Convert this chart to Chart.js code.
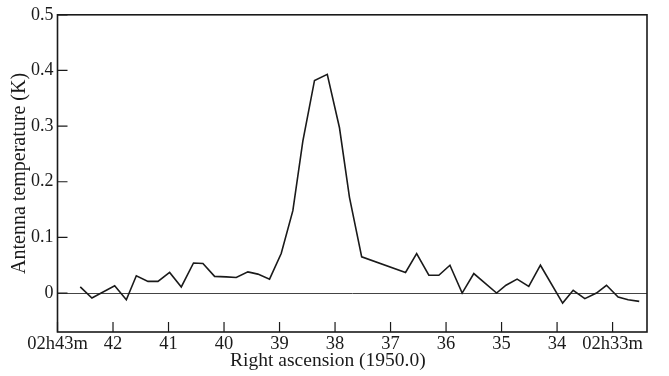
<!DOCTYPE html>
<html>
<head>
<meta charset="utf-8">
<script src="https://cdn.jsdelivr.net/npm/chart.js@4.4.1/dist/chart.umd.min.js"></script>
<style>
  html, body { margin: 0; padding: 0; background: #fff; }
  #wrap { width: 669px; height: 376px; position: relative; }
</style>
</head>
<body>
<div id="wrap"><canvas id="chart"></canvas></div>
<script>
// right ascension in minutes past 02h (1950.0)
const raMinutes = [
  42.59, 42.38, 41.97, 41.76, 41.58, 41.37, 41.19, 40.98, 40.77, 40.55,
  40.38, 40.17, 39.96, 39.78, 39.57, 39.39, 39.18, 38.97, 38.76, 38.58,
  38.37, 38.14, 37.92, 37.74, 37.52, 36.73, 36.53, 36.31, 36.13, 35.93,
  35.71, 35.50, 35.09, 34.92, 34.72, 34.51, 34.30, 33.90, 33.71, 33.50,
  33.29, 33.11, 32.90, 32.72, 32.52
];
// antenna temperature (K)
const antennaTemp = [
  0.011, -0.009, 0.013, -0.012, 0.031, 0.021, 0.021, 0.037, 0.011, 0.054,
  0.053, 0.030, 0.029, 0.028, 0.038, 0.034, 0.025, 0.071, 0.148, 0.273,
  0.382, 0.393, 0.297, 0.172, 0.065, 0.037, 0.071, 0.032, 0.032, 0.050,
  0.000, 0.035, 0.000, 0.014, 0.025, 0.012, 0.050, -0.018, 0.005, -0.010,
  0.000, 0.014, -0.007, -0.012, -0.015
];
const xTicks = [43, 42, 41, 40, 39, 38, 37, 36, 35, 34, 33];
const xTickLabels = ['02h43m', '42', '41', '40', '39', '38', '37', '36', '35', '34', '02h33m'];
const yTicks = [0, 0.1, 0.2, 0.3, 0.4, 0.5];
const yTickLabels = ['0', '0.1', '0.2', '0.3', '0.4', '0.5'];

const FONT = 'Liberation Serif';
const INK = '#1a1a1a';

// box round the plot plus the short inward tick marks
const frameTicks = {
  id: 'frameTicks',
  afterDatasetsDraw(chart) {
    const { ctx, chartArea: a, scales: { x, y } } = chart;
    ctx.save();
    ctx.strokeStyle = INK;
    ctx.lineWidth = 1.6;
    ctx.strokeRect(a.left, a.top, a.width, a.height);
    ctx.lineWidth = 1.2;
    ctx.beginPath();
    xTicks.forEach(v => {
      const px = x.getPixelForValue(v);
      ctx.moveTo(px, a.bottom);
      ctx.lineTo(px, a.bottom - 10);
    });
    yTicks.forEach(v => {
      const py = y.getPixelForValue(v);
      ctx.moveTo(a.left, py);
      ctx.lineTo(a.left + 10, py);
    });
    ctx.stroke();
    ctx.restore();
  }
};

new Chart(document.getElementById('chart'), {
  type: 'line',
  data: {
    datasets: [{
      data: raMinutes.map((ra, i) => ({ x: ra, y: antennaTemp[i] })),
      borderColor: INK,
      borderWidth: 1.6,
      pointRadius: 0,
      tension: 0,
      fill: false
    }]
  },
  options: {
    responsive: true,
    maintainAspectRatio: false,
    animation: false,
    layout: { padding: { top: 14, right: 22, left: 0, bottom: 0 } },
    plugins: { legend: { display: false }, tooltip: { enabled: false } },
    scales: {
      x: {
        type: 'linear',
        reverse: true,
        min: 32.38,
        max: 43,
        afterBuildTicks: (s) => { s.ticks = xTicks.map(v => ({ value: v })); },
        afterFit: (s) => { s.height = 44; },
        grid: { display: false, drawTicks: false },
        border: { display: false },
        ticks: {
          autoSkip: false,
          maxRotation: 0,
          padding: 1,
          color: INK,
          font: { family: FONT, size: 18.5 },
          callback: (v) => xTickLabels[xTicks.indexOf(v)]
        },
        title: {
          display: true,
          // trailing no-break spaces pull the centred title left, as in the scan
          text: 'Right ascension (1950.0)' + '\u00a0'.repeat(10),
          color: INK,
          font: { family: FONT, size: 19.5 },
          padding: { top: 0, bottom: 3 }
        }
      },
      y: {
        min: -0.07,
        max: 0.5,
        afterBuildTicks: (s) => { s.ticks = yTicks.map(v => ({ value: v })); },
        afterFit: (s) => { s.width = 57.5; },
        grid: {
          drawTicks: false,
          lineWidth: 1,
          color: (c) => c.tick && c.tick.value === 0 ? '#444' : 'rgba(0,0,0,0)'
        },
        border: { display: false },
        ticks: {
          padding: 4,
          color: INK,
          font: { family: FONT, size: 18 },
          callback: (v) => yTickLabels[yTicks.indexOf(v)]
        },
        title: {
          display: true,
          text: 'Antenna temperature (K)',
          color: INK,
          font: { family: FONT, size: 20 },
          padding: { top: 8, bottom: 0 }
        }
      }
    }
  },
  plugins: [frameTicks]
});
</script>
</body>
</html>
